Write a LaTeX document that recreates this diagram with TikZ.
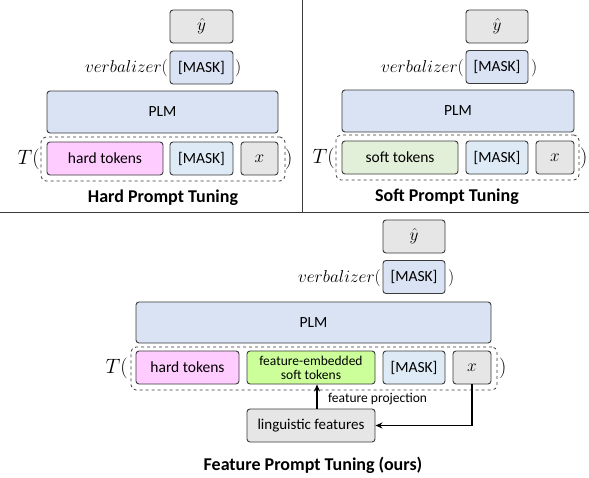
\documentclass[tikz,border=0pt]{standalone}
\usepackage[no-math]{fontspec}
\setmainfont{Carlito}
\usetikzlibrary{arrows.meta}
\definecolor{bluefill}{HTML}{DAE3F3}
\definecolor{maskfill}{HTML}{DEEBF7}
\definecolor{grayfill}{HTML}{E7E6E6}
\definecolor{pinkfill}{HTML}{FFCCFF}
\definecolor{softfill}{HTML}{E2F0D9}
\definecolor{featfill}{HTML}{CCFF99}
\definecolor{edge}{HTML}{3A3A3A}
\tikzset{
  box/.style={draw=edge, line width=0.9pt, rounded corners=3pt, inner sep=0pt, align=center,
    font=\fontsize{15.5}{17}\selectfont},
  smallbox/.style={box, font=\fontsize{13.5}{15}\selectfont},
  mathbox/.style={box, font=\fontsize{19}{21}\selectfont},
  dashbox/.style={draw=edge, dashed, line width=0.8pt, rounded corners=5pt, inner sep=0pt},
  mathlbl/.style={inner sep=0pt, font=\fontsize{17}{19}\selectfont},
  biglbl/.style={inner sep=0pt, font=\fontsize{22}{24}\selectfont},
  title/.style={inner sep=0pt, font=\fontsize{18}{20}\selectfont\bfseries},
  arr/.style={-{Stealth[length=7pt,width=6pt]}, line width=1.4pt},
}
\begin{document}
\begin{tikzpicture}[x=1pt,y=-1pt]
\useasboundingbox (0,0) rectangle (589,477);
% separators
\draw[line width=1pt, edge] (302,0) -- (302,212);
\draw[line width=1pt, edge] (0,212) -- (589,212);

% ---------- Hard Prompt Tuning ----------
\node[mathbox, fill=grayfill, minimum width=63, minimum height=33] (y1) at (201.5,26.5) {$\hat{y}$};
\node[box, fill=bluefill, minimum width=63, minimum height=33] (m1) at (201.5,67.5) {[MASK]};
\node[mathlbl, anchor=east] (v1) at (168,68) {$verbalizer($};
\node[mathlbl, anchor=west] (c1) at (235,68) {$)$};
\node[box, fill=bluefill, minimum width=231, minimum height=42] (plm1) at (162.5,112) {PLM};
\node[dashbox, minimum width=244, minimum height=44] (d1) at (163,159) {};
\node[box, fill=pinkfill, minimum width=116, minimum height=33] (h1) at (105,158.5) {hard tokens};
\node[box, fill=maskfill, minimum width=63, minimum height=33] (k1) at (201.5,158.5) {[MASK]};
\node[mathbox, fill=grayfill, minimum width=37, minimum height=33] (x1) at (259.5,158.5) {$x$};
\node[biglbl, anchor=east] (t1) at (40,159) {$T($};
\node[biglbl, anchor=west] (e1) at (285,159) {$)$};
\node[title] (ti1) at (163,198) {Hard Prompt Tuning};

% ---------- Soft Prompt Tuning ----------
\node[mathbox, fill=grayfill, minimum width=62, minimum height=33] (y2) at (497,26.5) {$\hat{y}$};
\node[box, fill=bluefill, minimum width=62, minimum height=33] (m2) at (497,67) {[MASK]};
\node[mathlbl, anchor=east] (v2) at (464,68) {$verbalizer($};
\node[mathlbl, anchor=west] (c2) at (531,68) {$)$};
\node[box, fill=bluefill, minimum width=232, minimum height=42] (plm2) at (458,111) {PLM};
\node[dashbox, minimum width=243, minimum height=45] (d2) at (457.5,157.5) {};
\node[box, fill=softfill, minimum width=116, minimum height=33] (s2) at (400,157.5) {soft tokens};
\node[box, fill=maskfill, minimum width=62, minimum height=33] (k2) at (497,157.5) {[MASK]};
\node[mathbox, fill=grayfill, minimum width=38, minimum height=33] (x2) at (555,157.5) {$x$};
\node[biglbl, anchor=east] (t2) at (335,158) {$T($};
\node[biglbl, anchor=west] (e2) at (580,158) {$)$};
\node[title] (ti2) at (447,197) {Soft Prompt Tuning};

% ---------- Feature Prompt Tuning ----------
\node[mathbox, fill=grayfill, minimum width=62, minimum height=33] (y3) at (414,236.5) {$\hat{y}$};
\node[box, fill=bluefill, minimum width=62, minimum height=33] (m3) at (414,277) {[MASK]};
\node[mathlbl, anchor=east] (v3) at (381,278) {$verbalizer($};
\node[mathlbl, anchor=west] (c3) at (448,278) {$)$};
\node[box, fill=bluefill, minimum width=355, minimum height=41] (plm3) at (313.5,322.5) {PLM};
\node[dashbox, minimum width=366, minimum height=43] (d3) at (314,368.5) {};
\node[box, fill=pinkfill, minimum width=103, minimum height=33] (h3) at (187.5,367.5) {hard tokens};
\node[smallbox, fill=featfill, minimum width=128, minimum height=33] (f3) at (311,367.5) {feature-embedded\\[-1pt]soft tokens};
\node[box, fill=maskfill, minimum width=62, minimum height=33] (k3) at (414,367.5) {[MASK]};
\node[mathbox, fill=grayfill, minimum width=38, minimum height=33] (x3) at (472,367.5) {$x$};
\node[biglbl, anchor=east] (t3) at (128,368) {$T($};
\node[biglbl, anchor=west] (e3) at (499,368) {$)$};
\node[box, fill=grayfill, minimum width=128, minimum height=33, font=\fontsize{15}{17}\selectfont] (lf) at (311,425.5) {linguistic features};
\node[inner sep=0pt, anchor=west, font=\fontsize{13.5}{15}\selectfont] (fp) at (328,399) {feature projection};
\node[title] (ti3) at (313,465) {Feature Prompt Tuning (ours)};

\draw[arr] ([xshift=6pt]lf.north) -- ([xshift=6pt]f3.south);
\draw[arr] (x3.south) |- (lf.east);
\end{tikzpicture}
\end{document}
